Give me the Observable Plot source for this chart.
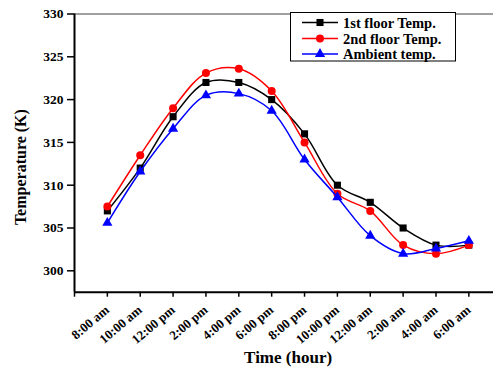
<!DOCTYPE html>
<html>
<head>
<meta charset="utf-8">
<script src="https://cdn.jsdelivr.net/npm/d3@7"></script>
<script src="https://cdn.jsdelivr.net/npm/@observablehq/plot@0.6"></script>
<style>
  html, body { margin: 0; padding: 0; background: #fff; }
  #chart { position: relative; width: 493px; height: 369px; }
</style>
</head>
<body>
<div id="chart"></div>
<script>
const times = ["8:00 am","10:00 am","12:00 pm","2:00 pm","4:00 pm","6:00 pm","8:00 pm","10:00 pm","12:00 am","2:00 am","4:00 am","6:00 am"];
const firstFloor = [307, 312, 318, 322, 322, 320, 316, 310, 308, 305, 303, 303];
const secondFloor = [307.5, 313.5, 319, 323.1, 323.6, 321, 315, 309, 307, 303, 302, 303];
const ambient = [305.6, 311.6, 316.6, 320.5, 320.7, 318.7, 313, 308.6, 304.1, 302, 302.6, 303.5];
const yTicks = [300, 305, 310, 315, 320, 325, 330];
const seriesNames = ["1st floor Temp.", "2nd floor Temp.", "Ambient temp."];
const seriesColors = ["#000000", "#ff0000", "#0000ff"];
const seriesSymbols = ["square", "circle", "triangle"];
const seriesR = [4, 4, 3.8];

const allSeries = [firstFloor, secondFloor, ambient];
const rows = allSeries.flatMap((vals, s) => vals.map((v, i) => ({s, i, v, name: seriesNames[s]})));
const xIdx = d3.range(-1, times.length);
const yMin = 297.5, yMax = 330;
const font = "'Liberation Serif', 'Times New Roman', serif";

const marks = [
  Plot.ruleY([yMax], {stroke: "#808080", strokeWidth: 1.5}),
  Plot.axisX({ticks: xIdx, tickSize: 5, tickFormat: () => "", label: null, strokeWidth: 1.5, stroke: "#000"}),
  Plot.axisY({ticks: yTicks, tickSize: 7, tickPadding: 4, tickFormat: d => d, label: null, strokeWidth: 1.5, fontSize: 13.5, fill: "#000"}),
  Plot.text(times, {x: (d, i) => i, y: yMin, text: d => d, rotate: -40, textAnchor: "end", dx: 0, dy: 16, fontSize: 13, fill: "#000"}),
  Plot.ruleX([-1], {strokeWidth: 2, stroke: "#000"}),
  Plot.ruleY([yMin], {strokeWidth: 2, stroke: "#000"}),
  Plot.text(["Time (hour)"], {x: (times.length - 1) / 2, frameAnchor: "bottom", dy: 71, fontSize: 17, fill: "#000"}),
  Plot.text(["Temperature (K)"], {frameAnchor: "left", textAnchor: "middle", rotate: -90, dx: -54, dy: 14, fontSize: 16, fill: "#000"})
];
allSeries.forEach((vals, s) => {
  const data = rows.filter(d => d.s === s);
  marks.push(Plot.line(data, {x: "i", y: "v", stroke: seriesColors[s], strokeWidth: 1.5, curve: "catmull-rom"}));
  marks.push(Plot.dot(data, {x: "i", y: "v", fill: seriesColors[s], stroke: "none", symbol: () => seriesSymbols[s], r: seriesR[s]}));
});

const plot = Plot.plot({
  width: 493,
  height: 369,
  marginLeft: 74,
  marginRight: 0,
  marginTop: 13.5,
  marginBottom: 77.3,
  style: {fontFamily: font, fontWeight: "bold", background: "#fff", color: "#000", overflow: "visible"},
  x: {type: "linear", domain: [-1, 11.75], axis: null},
  y: {domain: [yMin, yMax], axis: null},
  marks
});
document.getElementById("chart").appendChild(plot);

// Legend
const svg = d3.select(plot);
const lg = svg.append("g").attr("class", "legend").attr("text-anchor", "start");
lg.append("rect").attr("x", 290.5).attr("y", 12.5).attr("width", 165).attr("height", 48.5)
  .attr("fill", "#fff").attr("stroke", "#000").attr("stroke-width", 1);
const rowY = [22.5, 38.5, 54];
seriesNames.forEach((name, s) => {
  const g = lg.append("g").attr("transform", `translate(0,${rowY[s]})`);
  g.append("line").attr("x1", 302).attr("x2", 338).attr("y1", 0).attr("y2", 0)
    .attr("stroke", seriesColors[s]).attr("stroke-width", 1.5);
  const sym = {square: d3.symbolSquare, circle: d3.symbolCircle, triangle: d3.symbolTriangle}[seriesSymbols[s]];
  g.append("path").attr("transform", "translate(320,0)")
    .attr("d", d3.symbol(sym, Math.PI * seriesR[s] * seriesR[s])())
    .attr("fill", seriesColors[s]);
  g.append("text").attr("x", 343).attr("y", 0).attr("dy", "0.35em").attr("text-anchor", "start")
    .attr("font-size", 14.5).attr("font-weight", "bold").attr("font-family", font)
    .attr("fill", "#000").text(name);
});
</script>
</body>
</html>
